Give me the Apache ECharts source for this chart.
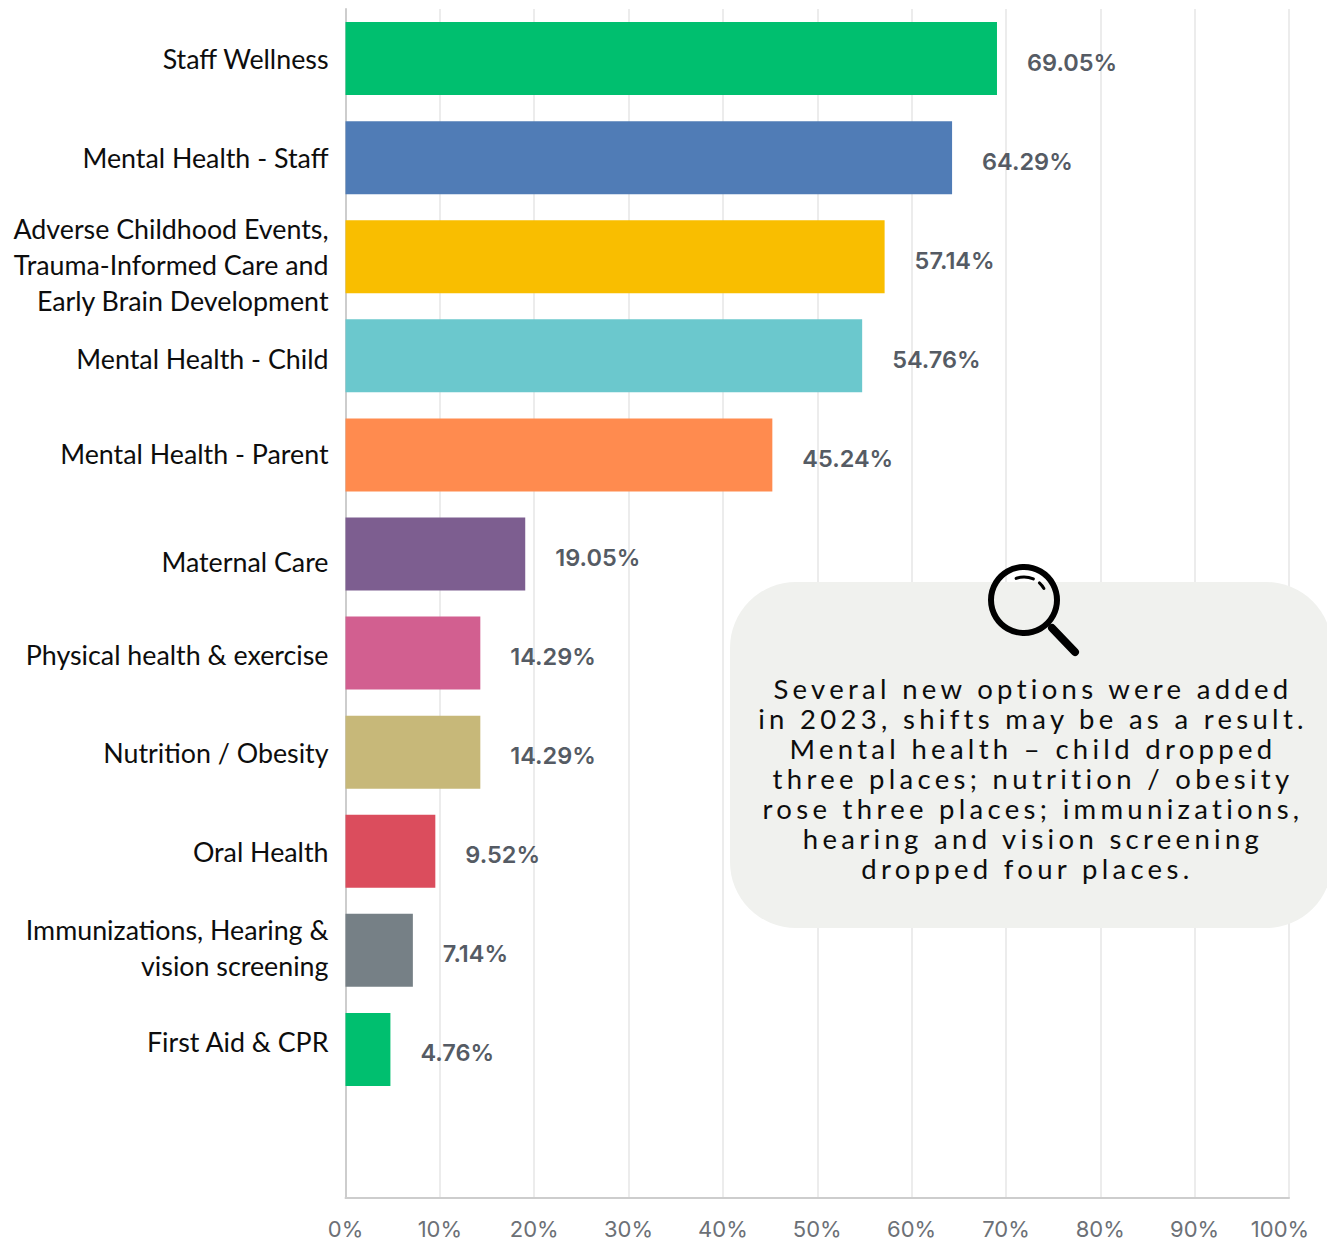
<!DOCTYPE html>
<html>
<head>
<meta charset="utf-8">
<style>html,body{margin:0;padding:0;background:#fff}#chart{width:1327px;height:1241px}</style>
<script src="https://cdn.jsdelivr.net/npm/echarts@6/dist/echarts.min.js"></script>
</head>
<body>
<div id="chart"></div>
<script>
// Health and wellness topics, share of respondents in percent. The empty last row leaves room above the axis.
const categories = [
  'Staff Wellness',
  'Mental Health - Staff',
  'Adverse Childhood Events,\nTrauma-Informed Care and\nEarly Brain Development',
  'Mental Health - Child',
  'Mental Health - Parent',
  'Maternal Care',
  'Physical health & exercise',
  'Nutrition / Obesity',
  'Oral Health',
  'Immunizations, Hearing &\nvision screening',
  'First Aid & CPR',
  ''
];
const values = [69.05, 64.29, 57.14, 54.76, 45.24, 19.05, 14.29, 14.29, 9.52, 7.14, 4.76, null];
const barColors = ['#00BF6F', '#507CB6', '#F9BE00', '#6BC8CD', '#FF8B4F', '#7D5E90', '#D25F90', '#C7B879', '#DB4D5D', '#768086', '#00BF6F', '#00BF6F'];
// Vertical nudge of each category label relative to its bar, in pixels.
const labelNudge = [0, 0, 8, 3, -1, 8, 2, 1, 1, -2, -7, 0];
const calloutLines = [
  'Several new options were added',
  'in 2023, shifts may be as a result.',
  'Mental health \u2013 child dropped',
  'three places; nutrition / obesity',
  'rose three places; immunizations,',
  'hearing and vision screening',
  'dropped four places.\u00a0'
];

const chart = echarts.init(document.getElementById('chart'), null, { renderer: 'svg' });
const textFont = 'Lato, sans-serif';
const chartFont = 'Inter, sans-serif';
const ink = '#0d0d0d';
const categorySize = 26.8;
const categoryLine = 36;

// One rich style per label: extra height above the first line or below the last shifts the block by half of it.
const richStyles = { plain: { fontFamily: textFont, fontSize: categorySize, lineHeight: categoryLine, color: ink } };
labelNudge.forEach((n, i) => {
  const extra = Math.abs(n) * 2;
  richStyles['t' + i] = Object.assign({}, richStyles.plain, {
    lineHeight: categoryLine + extra,
    padding: n >= 0 ? [extra, 0, 0, 0] : [0, 0, extra, 0]
  });
});
function categoryLabel(value, index) {
  const lines = value.split('\n');
  const shifted = labelNudge[index] >= 0 ? 0 : lines.length - 1;
  return lines.map((l, i) => '{' + (i === shifted ? 't' + index : 'plain') + '|' + l + '}').join('\n');
}

const calloutGraphics = [
  { type: 'rect', shape: { x: 730, y: 582, width: 602, height: 346, r: 66 }, style: { fill: '#F0F1EE' }, z: 10 },
  { type: 'circle', shape: { cx: 1024, cy: 600, r: 33 }, style: { fill: 'rgba(0,0,0,0)', stroke: '#000', lineWidth: 6 }, z: 11 },
  { type: 'line', shape: { x1: 1052, y1: 628, x2: 1075, y2: 652 }, style: { stroke: '#000', lineWidth: 8, lineCap: 'round' }, z: 11 },
  { type: 'arc', shape: { cx: 1024, cy: 600, r: 23, startAngle: -110 * Math.PI / 180, endAngle: -66 * Math.PI / 180 }, style: { fill: null, stroke: '#000', lineWidth: 3, lineCap: 'round' }, z: 11 },
  { type: 'arc', shape: { cx: 1024, cy: 600, r: 23, startAngle: -48 * Math.PI / 180, endAngle: -30 * Math.PI / 180 }, style: { fill: null, stroke: '#000', lineWidth: 3, lineCap: 'round' }, z: 11 }
].concat(calloutLines.map((line, i) => ({
  type: 'text',
  x: 1033,
  y: 688 + i * 30,
  z: 12,
  style: { text: line, fill: ink, font: '400 27.5px ' + textFont, textAlign: 'center', textVerticalAlign: 'middle' }
})));

chart.setOption({
  animation: false,
  backgroundColor: '#fff',
  grid: { left: 345.5, right: 38, top: 9, bottom: 43, outerBoundsMode: 'none' },
  xAxis: {
    type: 'value',
    min: 0,
    max: 100,
    interval: 10,
    axisLine: { show: true, lineStyle: { color: '#CDCDCD', width: 2 } },
    axisTick: { show: false },
    splitLine: { show: true, lineStyle: { color: '#ECECEC', width: 2 } },
    axisLabel: {
      margin: 20,
      fontFamily: chartFont,
      fontSize: 22,
      color: '#6C7076',
      formatter: v => v === 100 ? '{last|100%}' : v + '%',
      rich: { last: { fontFamily: chartFont, fontSize: 22, color: '#6C7076', padding: [0, 18, 0, 0] } }
    }
  },
  yAxis: {
    type: 'category',
    inverse: true,
    data: categories,
    axisTick: { show: false },
    axisLine: { show: true, lineStyle: { color: '#CDCDCD', width: 2 } },
    splitLine: { show: false },
    axisLabel: {
      margin: 17,
      interval: 0,
      align: 'right',
      formatter: categoryLabel,
      rich: richStyles
    }
  },
  series: [{
    type: 'bar',
    barWidth: 73,
    data: values.map((v, i) => ({ value: v, itemStyle: { color: barColors[i] } })),
    label: {
      show: true,
      position: 'right',
      distance: 30,
      offset: [0, 3.5],
      fontFamily: chartFont,
      fontWeight: 600,
      fontSize: 23.5,
      color: '#555B64',
      formatter: p => p.value == null ? '' : p.value.toFixed(2) + '%'
    }
  }],
  graphic: { elements: calloutGraphics }
});

// The callout is widely tracked; the renderer has no option for that, so it is applied on the SVG text nodes.
function trackCallout() {
  document.querySelectorAll('#chart text').forEach(t => {
    if (calloutLines.includes(t.textContent)) {
      t.setAttribute('letter-spacing', '4.3');
      t.style.letterSpacing = '4.3px';
    }
  });
}
trackCallout();
chart.on('finished', trackCallout);
</script>
</body>
</html>
